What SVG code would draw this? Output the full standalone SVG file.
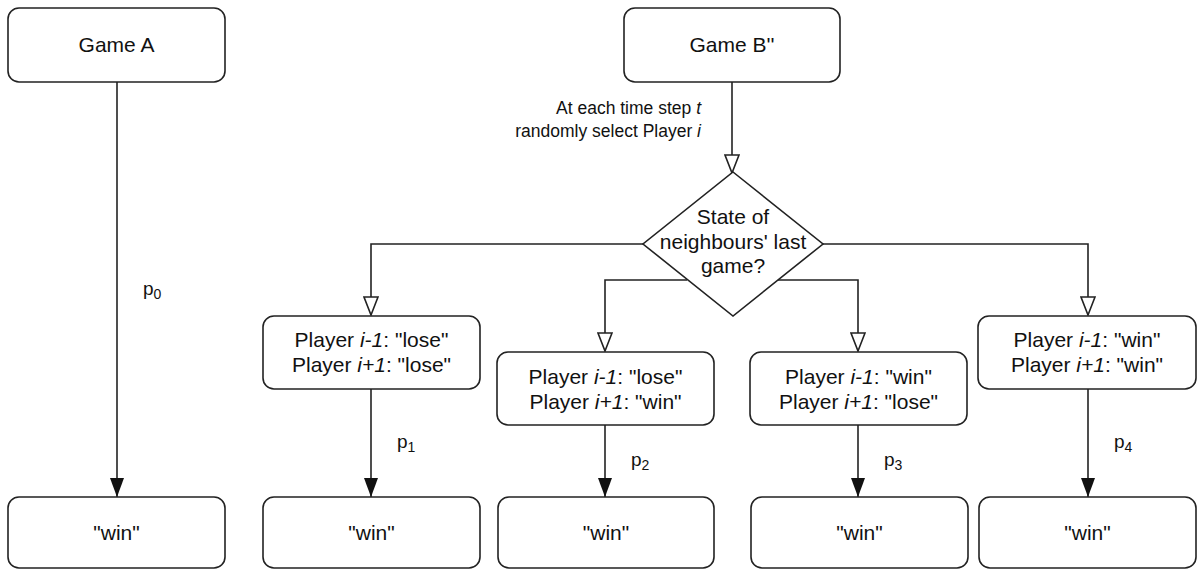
<svg xmlns="http://www.w3.org/2000/svg" width="1198" height="570" viewBox="0 0 1198 570">
<style>
.box{fill:#fff;stroke:#222;stroke-width:1.6}
.t{font-family:"Liberation Sans",Arial,Helvetica,sans-serif;font-size:21px;fill:#111;text-anchor:middle}
.lbl{font-family:"Liberation Sans",Arial,Helvetica,sans-serif;font-size:17.5px;fill:#111}
.p{font-family:"Liberation Sans",Arial,Helvetica,sans-serif;font-size:19px;fill:#111}
.e{fill:none;stroke:#222;stroke-width:1.6}
</style>
<defs>
<marker id="open" viewBox="0 0 20 16" refX="19" refY="8" markerWidth="20" markerHeight="16" markerUnits="userSpaceOnUse" orient="auto">
<path d="M1,1 L19,8 L1,15 Z" fill="#fff" stroke="#222" stroke-width="1.6"/>
</marker>
<marker id="fill" viewBox="0 0 19 14" refX="19" refY="7" markerWidth="19" markerHeight="14" markerUnits="userSpaceOnUse" orient="auto">
<path d="M0,0 L19,7 L0,14 Z" fill="#111"/>
</marker>
</defs>

<g id="connectors">
<path class="e" d="M117,82 V497" marker-end="url(#fill)"/>
<path class="e" d="M732,82 V173" marker-end="url(#open)"/>
<path class="e" d="M643,244 H371 V315" marker-end="url(#open)"/>
<path class="e" d="M823,244 H1088 V315" marker-end="url(#open)"/>
<path class="e" d="M687,280 H605 V351" marker-end="url(#open)"/>
<path class="e" d="M778,280 H858 V351" marker-end="url(#open)"/>
<path class="e" d="M371,389 V497" marker-end="url(#fill)"/>
<path class="e" d="M605,425 V497" marker-end="url(#fill)"/>
<path class="e" d="M858,425 V497" marker-end="url(#fill)"/>
<path class="e" d="M1088,389 V497" marker-end="url(#fill)"/>
<text class="lbl" x="701" y="114" text-anchor="end">At each time step <tspan font-style="italic">t</tspan></text>
<text class="lbl" x="701" y="137" text-anchor="end">randomly select Player <tspan font-style="italic">i</tspan></text>
<text class="p" x="143" y="295">p<tspan font-size="14" dy="4">0</tspan></text>
<text class="p" x="397" y="448">p<tspan font-size="14" dy="4">1</tspan></text>
<text class="p" x="631" y="466">p<tspan font-size="14" dy="4">2</tspan></text>
<text class="p" x="884" y="466">p<tspan font-size="14" dy="4">3</tspan></text>
<text class="p" x="1114" y="448">p<tspan font-size="14" dy="4">4</tspan></text>
</g>

<g id="gameA">
<rect class="box" x="8" y="8" width="217" height="74" rx="11"/>
<text class="t" x="116.5" y="52">Game A</text>
</g>
<g id="gameB">
<rect class="box" x="624" y="8" width="216" height="74" rx="11"/>
<text class="t" x="732" y="52">Game B''</text>
</g>
<g id="decision">
<path class="box" d="M733,172 L823,244 L733,316 L643,244 Z"/>
<text class="t" x="733" y="224">State of</text>
<text class="t" x="733" y="249">neighbours' last</text>
<text class="t" x="733" y="273">game?</text>
</g>
<g id="s1">
<rect class="box" x="263" y="316" width="217" height="73" rx="11"/>
<text class="t" x="371.5" y="347">Player <tspan font-style="italic">i-1</tspan>: "lose"</text>
<text class="t" x="371.5" y="372">Player <tspan font-style="italic">i+1</tspan>: "lose"</text>
</g>
<g id="s2">
<rect class="box" x="497" y="352" width="217" height="73" rx="11"/>
<text class="t" x="605.5" y="384">Player <tspan font-style="italic">i-1</tspan>: "lose"</text>
<text class="t" x="605.5" y="409">Player <tspan font-style="italic">i+1</tspan>: "win"</text>
</g>
<g id="s3">
<rect class="box" x="750" y="352" width="217" height="73" rx="11"/>
<text class="t" x="858.5" y="384">Player <tspan font-style="italic">i-1</tspan>: "win"</text>
<text class="t" x="858.5" y="409">Player <tspan font-style="italic">i+1</tspan>: "lose"</text>
</g>
<g id="s4">
<rect class="box" x="978" y="316" width="218" height="73" rx="11"/>
<text class="t" x="1087" y="347">Player <tspan font-style="italic">i-1</tspan>: "win"</text>
<text class="t" x="1087" y="372">Player <tspan font-style="italic">i+1</tspan>: "win"</text>
</g>
<g id="w0">
<rect class="box" x="8" y="497" width="217" height="71" rx="11"/>
<text class="t" x="116.5" y="540">"win"</text>
</g>
<g id="w1">
<rect class="box" x="263" y="497" width="217" height="71" rx="11"/>
<text class="t" x="371.5" y="540">"win"</text>
</g>
<g id="w2">
<rect class="box" x="498" y="497" width="216" height="71" rx="11"/>
<text class="t" x="606" y="540">"win"</text>
</g>
<g id="w3">
<rect class="box" x="751" y="497" width="217" height="71" rx="11"/>
<text class="t" x="859.5" y="540">"win"</text>
</g>
<g id="w4">
<rect class="box" x="979" y="497" width="217" height="71" rx="11"/>
<text class="t" x="1087.5" y="540">"win"</text>
</g>
</svg>
